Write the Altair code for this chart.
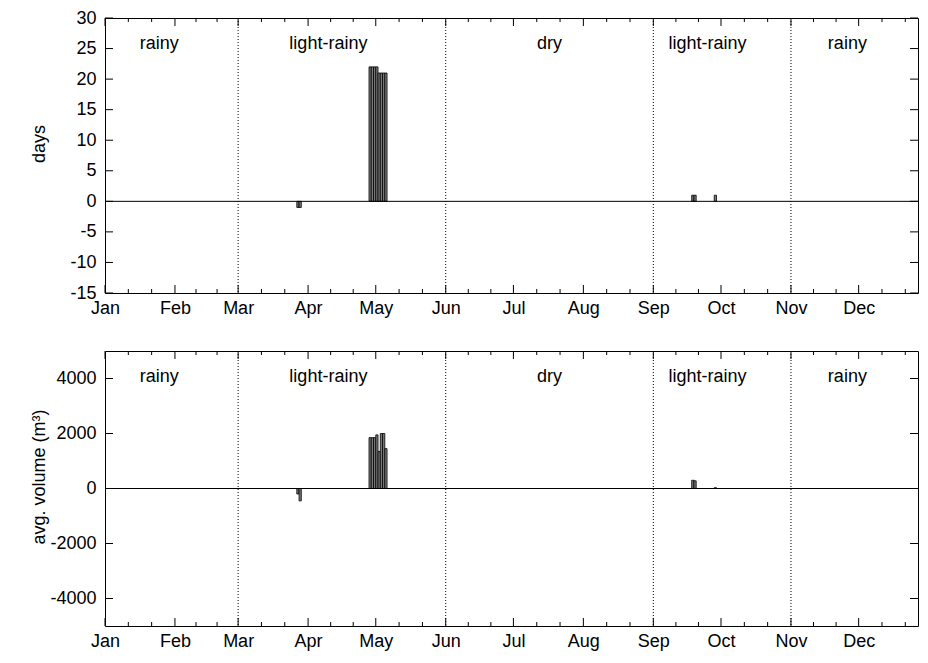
import altair as alt
import pandas as pd

# ---------------- data ----------------
month_names = ["Jan", "Feb", "Mar", "Apr", "May", "Jun",
               "Jul", "Aug", "Sep", "Oct", "Nov", "Dec"]
month_start = [0, 31, 59, 90, 120, 151, 181, 212, 243, 273, 304, 334]
year_end = 365

season_names = ["rainy", "light-rainy", "dry", "light-rainy", "rainy"]
season_label_day = [24, 99, 197, 267, 329]
divider_days = [59, 151, 243, 304]

days_day = [85, 86, 117, 118, 119, 120, 121, 122, 123, 124, 260, 261, 270]
days_val = [-1, -1, 22, 22, 22, 22, 21, 21, 21, 21, 1, 1, 1]

vol_day = [85, 86, 117, 118, 119, 120, 121, 122, 123, 124, 260, 261, 270]
vol_val = [-200, -450, 1850, 1850, 1850, 1950, 1350, 2000, 2000, 1450, 300, 280, 30]

days_ticks = [-15, -10, -5, 0, 5, 10, 15, 20, 25, 30]
vol_ticks = [-4000, -2000, 0, 2000, 4000]

# ---------------- style ----------------
W = 813
H1 = 275
H2 = 275
FONT = "Liberation Sans"
FS = 18
MAJ = 8
MIN = 4
X_END = 360.3

minor_ticks = []
bounds = month_start + [year_end]
for a, b in zip(bounds[:-1], bounds[1:]):
    minor_ticks += [a + (b - a) / 3, a + 2 * (b - a) / 3]
minor_ticks = [t for t in minor_ticks if t < X_END]

label_expr = "{}[indexof({}, datum.value)]".format(
    str(month_names).replace("'", '"'), str(month_start))

xscale = alt.Scale(domain=[0, X_END], nice=False, zero=False)

seasons = pd.DataFrame({"name": season_names, "mid": season_label_day})


def panel(day, val, ydomain, yticks, ytitle, H):
    yscale = alt.Scale(domain=ydomain, nice=False, zero=False)
    bars_df = pd.DataFrame({"day": day, "val": val})
    xaxis = alt.Axis(values=month_start, labelExpr=label_expr, ticks=False,
                     domain=False, grid=False, labelFlush=False,
                     labelOverlap=False, labelPadding=6, title=None,
                     labelFont=FONT, labelFontSize=FS, labelColor="black")
    yaxis = alt.Axis(values=yticks, labelExpr="'' + datum.value", ticks=False,
                     domain=False, grid=False,
                     labelPadding=9, title=ytitle, titleX=-66, titleY=H / 2 - 12,
                     titleAngle=-90, titleBaseline="middle", titleAlign="center",
                     titleFont=FONT, titleFontSize=FS, titleFontWeight="normal",
                     titleColor="black", labelFont=FONT, labelFontSize=FS,
                     labelColor="black", labelOverlap=False, labelFlush=False)

    def X(f):
        return alt.X(f, scale=xscale, axis=xaxis)

    def Y(f):
        return alt.Y(f, scale=yscale, axis=yaxis)

    bars = alt.Chart(bars_df).transform_calculate(
        end="datum.day + 1", zero="0"
    ).mark_bar(fill="#7a7a7a", stroke="black", strokeWidth=0.8, clip=True).encode(
        x=X("day:Q"), x2="end:Q", y=Y("val:Q"), y2="zero:Q",
    )

    zero = alt.Chart(pd.DataFrame({"v": [0]})).mark_rule(
        color="black", strokeWidth=1).encode(y=Y("v:Q"))

    dividers = alt.Chart(pd.DataFrame({"d": divider_days})).mark_rule(
        color="black", strokeWidth=1, strokeDash=[1, 2]).encode(x=X("d:Q"))

    ytk = pd.DataFrame({"t": yticks})
    yl = alt.Chart(ytk).mark_rule(color="black", strokeWidth=1).encode(
        y=Y("t:Q"), x=alt.value(0), x2=alt.value(MAJ))
    yr = alt.Chart(ytk).mark_rule(color="black", strokeWidth=1).encode(
        y=Y("t:Q"), x=alt.value(W - MAJ), x2=alt.value(W))

    xtk = pd.DataFrame({"t": month_start})
    xb = alt.Chart(xtk).mark_rule(color="black", strokeWidth=1).encode(
        x=X("t:Q"), y=alt.value(H - MAJ), y2=alt.value(H))
    xt = alt.Chart(xtk).mark_rule(color="black", strokeWidth=1).encode(
        x=X("t:Q"), y=alt.value(0), y2=alt.value(MAJ))
    mtk = pd.DataFrame({"t": minor_ticks})
    mb = alt.Chart(mtk).mark_rule(color="black", strokeWidth=1).encode(
        x=X("t:Q"), y=alt.value(H - MIN), y2=alt.value(H))
    mt = alt.Chart(mtk).mark_rule(color="black", strokeWidth=1).encode(
        x=X("t:Q"), y=alt.value(0), y2=alt.value(MIN))

    labels = alt.Chart(seasons).mark_text(
        font=FONT, fontSize=FS, color="black", baseline="middle", align="center"
    ).encode(x=X("mid:Q"), y=alt.value(26), text="name:N")

    return alt.layer(bars, dividers, zero, yl, yr, xb, xt, mb, mt, labels).properties(
        width=W, height=H)


top = panel(days_day, days_val, [-15, 30], days_ticks, "days", H1)
bottom = panel(vol_day, vol_val, [-5000, 5000], vol_ticks, "avg. volume (m³)", H2)

chart = alt.vconcat(top, bottom, spacing=32).properties(
    padding={"left": 21, "top": 0, "right": 0, "bottom": 0}
).configure(background="white").configure_view(stroke="black", strokeWidth=1)

chart.save("out.html", embed_options={"renderer": "svg", "actions": False})
